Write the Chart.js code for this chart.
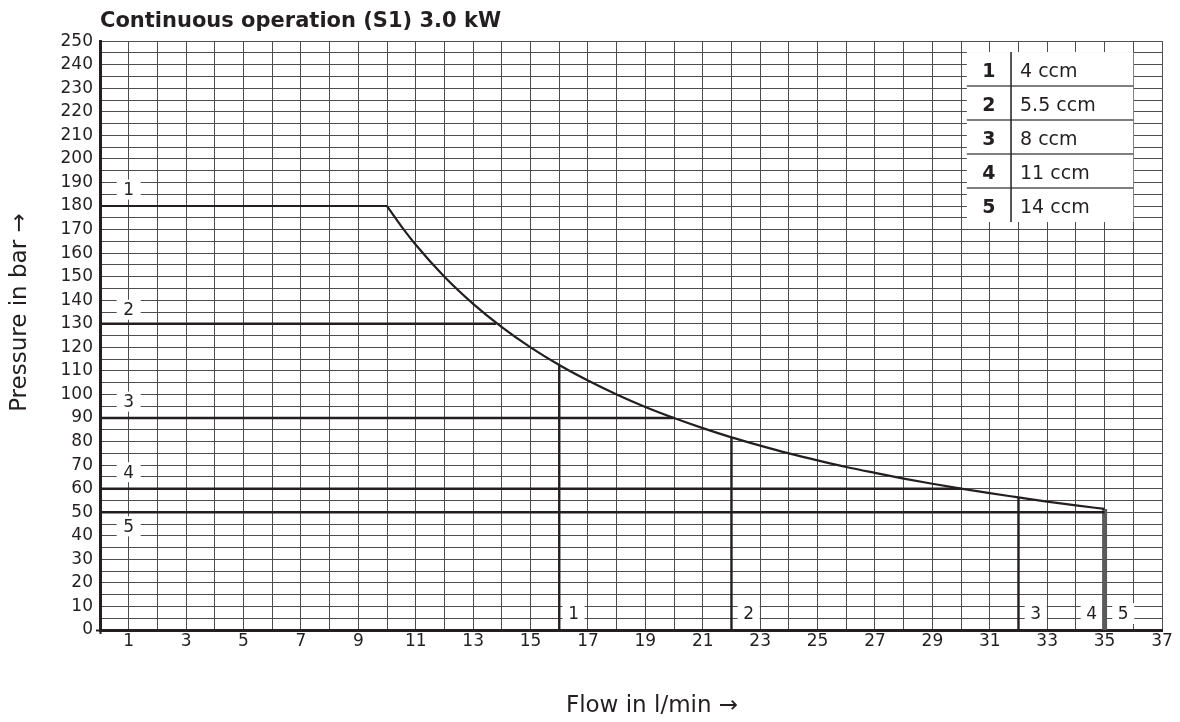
<!DOCTYPE html>
<html>
<head>
<meta charset="utf-8">
<script src="https://cdn.jsdelivr.net/npm/chart.js@4.4.1/dist/chart.umd.min.js"></script>
<style>
  html, body { margin: 0; padding: 0; background: #fff; }
  #wrap { position: relative; width: 1180px; height: 722px; }
</style>
</head>
<body>
<div id="wrap"><canvas id="c"></canvas></div>
<script>
// ---- data ----
const titleText = 'Continuous operation (S1) 3.0 kW';
const xTitle = 'Flow in l/min \u2192';
const yTitle = 'Pressure in bar \u2192';

// power-limit curve (S1, 3.0 kW)
const curveFlow     = [10, 10.5, 11, 12, 13, 14, 15, 16, 17, 18, 19, 20, 21, 22, 23, 24, 25, 26, 27, 28, 29, 30, 31, 32, 33, 34, 35];
const curvePressure = [180, 171.4, 163.6, 150, 138.5, 128.6, 120, 112.5, 105.9, 100, 94.7, 90, 85.7, 81.8, 78.3, 75, 72, 69.2, 66.7, 64.3, 62.1, 60, 58.1, 56.3, 54.5, 52.9, 51.4];

// pressure limits per displacement (horizontal lines)
const limitPressure = [180, 130, 90, 60, 50];
const limitFlowEnd  = [10, 13.8, 20, 30, 35];

// flow limits per displacement (vertical lines)
const stopFlow     = [16, 22, 32, 35];
const stopPressure = [112.5, 81.8, 56.3, 51.4];

// curve numbers
const sizeIds   = ['1', '2', '3', '4', '5'];
const sizeNames = ['4 ccm', '5.5 ccm', '8 ccm', '11 ccm', '14 ccm'];

// label anchors (data coordinates)
const leftLabelFlow      = 1;
const leftLabelPressure  = [187, 136, 97, 67, 44];
const bottomLabelIds     = ['1', '2', '3', '4', '5'];
const bottomLabelFlow    = [16.5, 22.6, 32.6, 34.55, 35.65];
const bottomLabelPressure = 7;

// axis ranges / ticks
const xMin = 0, xMax = 37, xStep = 1;
const yMin = 0, yMax = 250, yStep = 5;

// ---- chart ----
const INK = '#231f20';
const FONT = "'DejaVu Sans', sans-serif";
Chart.defaults.font.family = FONT;
Chart.defaults.color = INK;

const datasets = [];
datasets.push({
  label: 'curve',
  data: curveFlow.map((x, i) => ({ x, y: curvePressure[i] })),
  borderColor: INK, borderWidth: 2.2, cubicInterpolationMode: 'monotone'
});
limitPressure.forEach((p, i) => {
  datasets.push({
    label: 'limit ' + sizeIds[i],
    data: [{ x: 0, y: p }, { x: limitFlowEnd[i], y: p }],
    borderColor: INK, borderWidth: i === 0 ? 2 : 2.6
  });
});
stopFlow.forEach((q, i) => {
  const last = i === stopFlow.length - 1;
  datasets.push({
    label: 'stop ' + (i + 1),
    data: [{ x: q, y: 0 }, { x: q, y: stopPressure[i] }],
    borderColor: last ? '#5a5a5a' : INK, borderWidth: last ? 5 : 2.4
  });
});
datasets.forEach(d => { d.showLine = true; d.pointRadius = 0; d.fill = false; d.tension = 0; });
datasets[0].tension = 0.4;

function boxLabel(ctx, text, px, py, w, h) {
  ctx.save();
  ctx.fillStyle = '#fff';
  ctx.fillRect(px - w / 2, py - h / 2, w, h);
  ctx.fillStyle = INK;
  ctx.font = '17px ' + FONT;
  ctx.textAlign = 'center';
  ctx.textBaseline = 'middle';
  ctx.fillText(text, px, py + 1);
  ctx.restore();
}

const annotPlugin = {
  id: 'annot',
  beforeDatasetsDraw(chart) {
    const ctx = chart.ctx, xs = chart.scales.x, ys = chart.scales.y;
    leftLabelPressure.forEach((p, i) => {
      boxLabel(ctx, sizeIds[i], xs.getPixelForValue(leftLabelFlow), ys.getPixelForValue(p), 24, 20);
    });
    bottomLabelFlow.forEach((q, i) => {
      boxLabel(ctx, bottomLabelIds[i], xs.getPixelForValue(q), ys.getPixelForValue(bottomLabelPressure), 22, 21);
    });
  },
  afterDraw(chart) {
    const ctx = chart.ctx, xs = chart.scales.x, ys = chart.scales.y, ca = chart.chartArea;
    // legend table
    const L = xs.getPixelForValue(30.2), R = xs.getPixelForValue(36.0);
    const T = ys.getPixelForValue(245.4), B = ys.getPixelForValue(173.2);
    const sep = xs.getPixelForValue(31.74);
    const rh = (B - T) / sizeIds.length;
    ctx.save();
    ctx.fillStyle = '#fff';
    ctx.fillRect(L, T, R - L, B - T);
    ctx.strokeStyle = '#555';
    ctx.lineWidth = 1.5;
    for (let i = 1; i < sizeIds.length; i++) {
      ctx.beginPath(); ctx.moveTo(L, T + rh * i); ctx.lineTo(R, T + rh * i); ctx.stroke();
    }
    ctx.strokeStyle = INK;
    ctx.beginPath(); ctx.moveTo(sep, T); ctx.lineTo(sep, B); ctx.stroke();
    ctx.fillStyle = INK;
    ctx.textBaseline = 'middle';
    sizeIds.forEach((id, i) => {
      const cy = T + rh * (i + 0.5) + 3;
      ctx.font = 'bold 19px ' + FONT; ctx.textAlign = 'center';
      ctx.fillText(id, (L + sep) / 2, cy);
      ctx.font = '19px ' + FONT; ctx.textAlign = 'left';
      ctx.fillText(sizeNames[i], sep + 9, cy);
    });
    // axis titles
    ctx.font = '23px ' + FONT;
    ctx.textAlign = 'center';
    ctx.textBaseline = 'middle';
    ctx.fillText(xTitle, (ca.left + ca.right) / 2 + 21, 706);
    ctx.translate(20, (ca.top + ca.bottom) / 2 - 23);
    ctx.rotate(-Math.PI / 2);
    ctx.fillText(yTitle, 0, 0);
    ctx.restore();
  }
};

new Chart(document.getElementById('c'), {
  type: 'scatter',
  data: { datasets },
  plugins: [annotPlugin],
  options: {
    responsive: true,
    maintainAspectRatio: false,
    animation: false,
    layout: { padding: { left: 0, right: 18, top: 0, bottom: 0 } },
    plugins: {
      legend: { display: false },
      tooltip: { enabled: false },
      title: {
        display: true, text: titleText, align: 'start', fullSize: false,
        color: INK, font: { size: 21, weight: 'bold', family: FONT, lineHeight: 1.2 },
        padding: { top: 9, bottom: 7 }
      }
    },
    scales: {
      x: {
        type: 'linear', min: xMin, max: xMax,
        afterFit(s) { s.height = 92; },
        border: { display: true, color: INK, width: 3 },
        grid: {
          color: '#4d4d4d', lineWidth: 1, tickLength: 4, tickWidth: 2,
          tickColor: c => (c.tick && c.tick.value === 0) ? INK : 'rgba(0,0,0,0)'
        },
        ticks: {
          stepSize: xStep, autoSkip: false, maxRotation: 0, padding: -3,
          font: { size: 17 }, color: INK,
          callback: v => (v % 2 === 1 ? String(v) : '')
        }
      },
      y: {
        type: 'linear', min: yMin, max: yMax,
        afterFit(s) { s.width = 100; },
        border: { display: true, color: INK, width: 3 },
        grid: {
          color: '#4d4d4d', lineWidth: 1, tickLength: 4, tickWidth: 2,
          tickColor: c => (c.tick && c.tick.value === 0) ? INK : 'rgba(0,0,0,0)'
        },
        ticks: {
          stepSize: yStep, autoSkip: false, padding: 3,
          font: { size: 17 }, color: INK,
          callback: v => (v % 10 === 0 ? String(v) : '')
        }
      }
    }
  }
});
</script>
</body>
</html>
